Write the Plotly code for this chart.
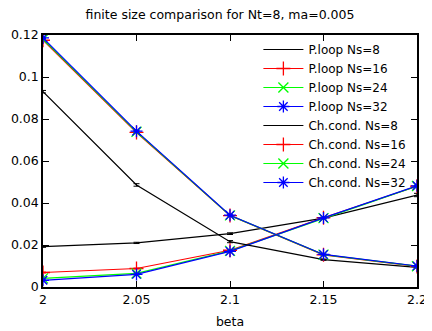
import plotly.graph_objects as go

# Daten
beta = [2.0, 2.05, 2.1, 2.15, 2.2]

ploop_8 = [0.0192, 0.0210, 0.0254, 0.0328, 0.0438]
ploop_16 = [0.0069, 0.0088, 0.0175, 0.0330, 0.0480]
ploop_24 = [0.0041, 0.0065, 0.0172, 0.0328, 0.0481]
ploop_32 = [0.0032, 0.0060, 0.0170, 0.0329, 0.0482]

ploop_8_err = [0.0003, 0.0003, 0.0004, 0.0004, 0.0008]
ploop_16_err = [0.0002, 0.0002, 0.0002, 0.0003, 0.0003]
ploop_24_err = [0.0002, 0.0002, 0.0002, 0.0003, 0.0003]
ploop_32_err = [0.0002, 0.0002, 0.0002, 0.0003, 0.0003]

chcond_8 = [0.0930, 0.0486, 0.0216, 0.0130, 0.0093]
chcond_16 = [0.1175, 0.0736, 0.0340, 0.0153, 0.0098]
chcond_24 = [0.1180, 0.0739, 0.0341, 0.0154, 0.0099]
chcond_32 = [0.1186, 0.0742, 0.0342, 0.0155, 0.0100]

chcond_8_err = [0.0006, 0.0006, 0.0005, 0.0003, 0.0003]
chcond_16_err = [0.0003, 0.0003, 0.0002, 0.0002, 0.0002]
chcond_24_err = [0.0003, 0.0003, 0.0002, 0.0002, 0.0002]
chcond_32_err = [0.0003, 0.0003, 0.0002, 0.0002, 0.0002]

series = [
    ("P.loop Ns=8", ploop_8, ploop_8_err, "black", None),
    ("P.loop Ns=16", ploop_16, ploop_16_err, "red", "cross-thin"),
    ("P.loop Ns=24", ploop_24, ploop_24_err, "#00ff00", "x-thin"),
    ("P.loop Ns=32", ploop_32, ploop_32_err, "blue", "asterisk"),
    ("Ch.cond. Ns=8", chcond_8, chcond_8_err, "black", None),
    ("Ch.cond. Ns=16", chcond_16, chcond_16_err, "red", "cross-thin"),
    ("Ch.cond. Ns=24", chcond_24, chcond_24_err, "#00ff00", "x-thin"),
    ("Ch.cond. Ns=32", chcond_32, chcond_32_err, "blue", "asterisk"),
]

fig = go.Figure()
for name, y, err, col, sym in series:
    if sym is None:
        mode = "lines"
        marker = dict(color=col)
    else:
        mode = "lines+markers"
        marker = dict(symbol=sym, size=10, color=col, line=dict(color=col, width=1.3))
    fig.add_trace(go.Scatter(
        x=beta, y=y, name=name, mode=mode,
        line=dict(color=col, width=1.2),
        marker=marker,
        error_y=dict(type="data", array=err, color=col, thickness=1, width=3),
    ))

achse = dict(
    showline=True, linecolor="black", linewidth=1.5, mirror="ticks",
    ticks="inside", ticklen=6, tickcolor="black", showgrid=False, zeroline=False,
    tickfont=dict(size=12.5, color="black"), automargin=False,
)

# Seite hat 8px Rand im Browser -> Figur etwas kleiner
fig.update_layout(
    width=424, height=323,
    margin=dict(l=35, r=15, t=27, b=44),
    paper_bgcolor="white", plot_bgcolor="white",
    font=dict(family="DejaVu Sans", size=12, color="black"),
    title=dict(text="finite size comparison for Nt=8, ma=0.005", x=0.5, xanchor="center",
               y=0.98, yanchor="middle", font=dict(size=12.5)),
    xaxis=dict(range=[2.0, 2.2], tickvals=[2.0, 2.05, 2.1, 2.15, 2.2],
               ticktext=["2", "2.05", "2.1", "2.15", "2.2"],
               title=dict(text="beta", standoff=11, font=dict(size=12.5)), **achse),
    yaxis=dict(range=[0, 0.12], tickvals=[0, 0.02, 0.04, 0.06, 0.08, 0.1, 0.12],
               ticktext=["0", "0.02", "0.04", "0.06", "0.08", "0.1", "0.12"], **achse),
    legend=dict(x=0.985, y=1.0, xanchor="right", yanchor="top", bgcolor="rgba(0,0,0,0)",
                font=dict(size=12), tracegroupgap=0, itemwidth=40),
    showlegend=True,
)

fig.write_html("out.html")
